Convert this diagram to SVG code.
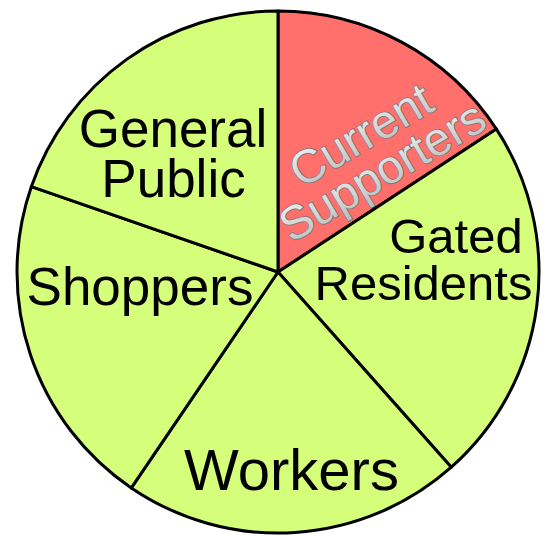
<svg xmlns="http://www.w3.org/2000/svg" width="546" height="537" viewBox="0 0 546 537">
<style>
.slice{stroke:#000;stroke-width:3;stroke-linejoin:round}
.green{fill:#d5fe7b}
.red{fill:#ff6f6b}
.lbl{font-family:"Liberation Sans",Arial,sans-serif;fill:#000;text-anchor:middle}
.emb{font-family:"Liberation Sans",Arial,sans-serif;fill:url(#silver);stroke:#767676;stroke-width:1.6;text-anchor:middle;paint-order:stroke}
</style>
<defs>
<linearGradient id="silver" x1="0" y1="0" x2="0" y2="1">
<stop offset="0" stop-color="#f6f6f6"/>
<stop offset="0.5" stop-color="#d8d8d8"/>
<stop offset="1" stop-color="#bcbcbc"/>
</linearGradient>
</defs>
<rect width="546" height="537" fill="#fff"/>
<g id="current-supporters">
<path class="slice red" d="M278,272 L278,11 A261,261 0 0 1 496.4,129.1 Z"/>
<g transform="translate(369,149) rotate(-30.5)">
<text class="emb" x="0" y="0" font-size="47">Current</text>
<text class="emb" x="0" y="42" font-size="47">Supporters</text>
</g>
</g>
<g id="gated-residents">
<path class="slice green" d="M278,272 L496.4,129.1 A261,261 0 0 1 451.3,467.2 Z"/>
<text class="lbl" x="456" y="253" font-size="49">Gated</text>
<text class="lbl" x="423.5" y="300" font-size="49">Residents</text>
</g>
<g id="workers">
<path class="slice green" d="M278,272 L451.3,467.2 A261,261 0 0 1 131.3,487.9 Z"/>
<text class="lbl" x="291.5" y="490" font-size="58">Workers</text>
</g>
<g id="shoppers">
<path class="slice green" d="M278,272 L131.3,487.9 A261,261 0 0 1 31.4,186.6 Z"/>
<text class="lbl" x="140" y="305" font-size="53">Shoppers</text>
</g>
<g id="general-public">
<path class="slice green" d="M278,272 L31.4,186.6 A261,261 0 0 1 278,11 Z"/>
<text class="lbl" x="173" y="147" font-size="53">General</text>
<text class="lbl" x="173.5" y="197" font-size="53">Public</text>
</g>
</svg>
